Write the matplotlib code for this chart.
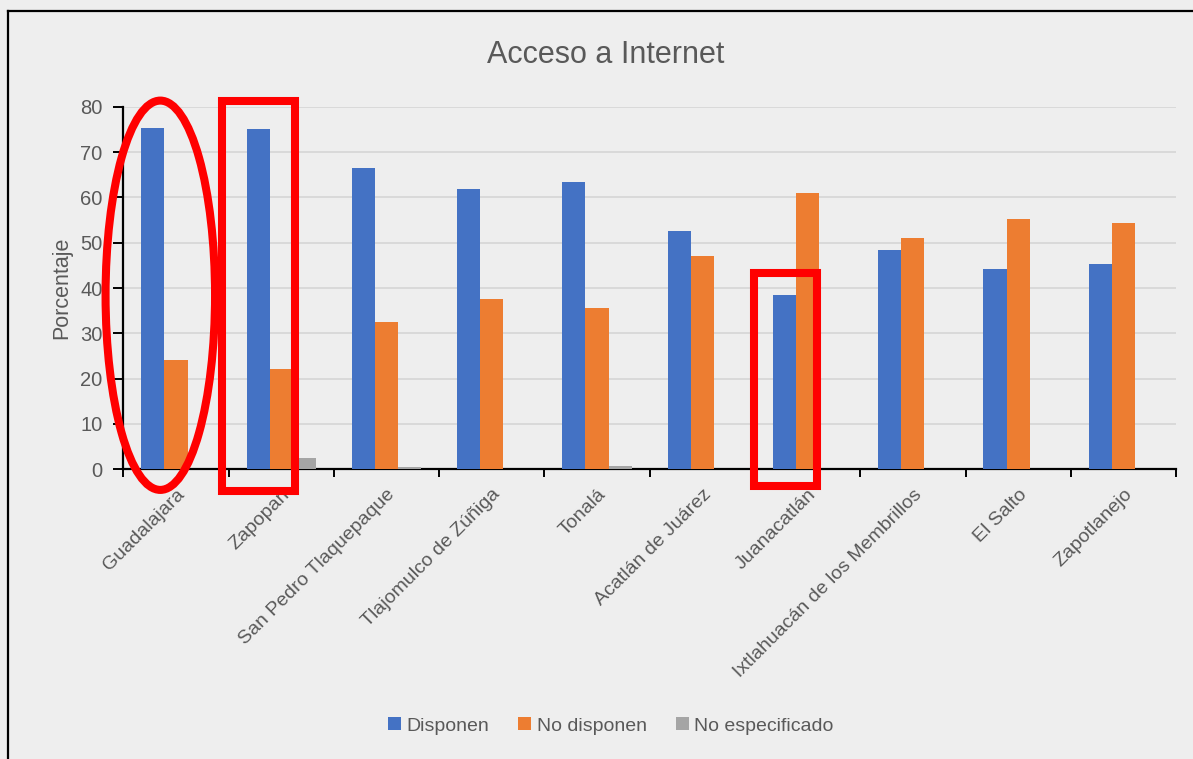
"""Acceso a Internet por municipio: porcentaje de viviendas que disponen / no disponen."""
import matplotlib
matplotlib.use("Agg")
import matplotlib.pyplot as plt
import numpy as np
from matplotlib.lines import Line2D
from matplotlib.patches import Ellipse, Rectangle

municipios = [
    "Guadalajara", "Zapopan", "San Pedro Tlaquepaque", "Tlajomulco de Zúñiga",
    "Tonalá", "Acatlán de Juárez", "Juanacatlán", "Ixtlahuacán de los Membrillos",
    "El Salto", "Zapotlanejo",
]
disponen = [75.2, 75.1, 66.5, 61.9, 63.3, 52.6, 38.5, 48.4, 44.3, 45.4]
no_disponen = [24.1, 22.1, 32.5, 37.6, 35.5, 47.0, 61.0, 51.1, 55.2, 54.3]
no_especificado = [0.0, 2.4, 0.6, 0.0, 0.7, 0.0, 0.0, 0.0, 0.0, 0.0]
series_labels = ["Disponen", "No disponen", "No especificado"]
y_ticks = [0, 10, 20, 30, 40, 50, 60, 70, 80]

BG = "#EEEEEE"
TEXT = "#595959"
COLORS = ["#4472C4", "#ED7D31", "#A5A5A5"]

plt.rcParams["font.family"] = ["Liberation Sans", "DejaVu Sans"]

fig = plt.figure(figsize=(11.93, 7.59), dpi=100, facecolor=BG)
ax = fig.add_axes([0.1034, 0.3817, 0.8824, 0.4777], facecolor=BG)

x = np.arange(len(municipios))
width = 0.22
for k, (vals, color, label) in enumerate(zip([disponen, no_disponen, no_especificado],
                                            COLORS, series_labels)):
    ax.bar(x + (k - 1) * width, vals, width, color=color, label=label, zorder=3)

ax.set_xlim(-0.5, len(municipios) - 0.5)
ax.set_ylim(0, 80)
ax.set_yticks(y_ticks)
ax.yaxis.grid(True, color="#D9D9D9", linewidth=1.4, zorder=0)
ax.set_axisbelow(True)

for side in ("top", "right"):
    ax.spines[side].set_visible(False)
for side in ("left", "bottom"):
    ax.spines[side].set_color("black")
    ax.spines[side].set_linewidth(1.6)

ax.tick_params(axis="y", direction="out", length=7, width=1.4, color="black",
               labelcolor=TEXT, labelsize=14.5, pad=8)
ax.set_xticks(x)
ax.set_xticklabels(municipios, rotation=45, ha="right", rotation_mode="anchor")
ax.tick_params(axis="x", which="major", length=0, labelcolor=TEXT, labelsize=14, pad=12)
ax.set_xticks(np.arange(-0.5, len(municipios)), minor=True)
ax.tick_params(axis="x", which="minor", direction="out", length=6, width=1.4, color="black")

ax.set_ylabel("Porcentaje", color=TEXT, fontsize=15.5, labelpad=6)
fig.text(0.508, 0.927, "Acceso a Internet", ha="center", va="center",
         color=TEXT, fontsize=22)

# red highlight marks
red_lw = 5.8
ax.add_patch(Ellipse((-0.149, 38.4), 1.04, 85.9, fill=False, edgecolor="#FF0000",
                     linewidth=red_lw, clip_on=False, zorder=5))
ax.add_patch(Rectangle((0.4416, -4.9), 1.130 - 0.4416, 81.3 + 4.9, fill=False,
                       edgecolor="#FF0000", linewidth=red_lw, clip_on=False, zorder=5))
ax.add_patch(Rectangle((5.494, -3.7), 6.088 - 5.494, 43.2 + 3.7, fill=False,
                       edgecolor="#FF0000", linewidth=red_lw, clip_on=False, zorder=5))

handles, labels = ax.get_legend_handles_labels()
fig.legend(handles, labels, loc="center", bbox_to_anchor=(0.512, 0.0435), ncol=3,
           frameon=False, fontsize=14, labelcolor=TEXT, handlelength=0.65,
           handleheight=0.65, handletextpad=0.3, columnspacing=1.5)

# outer frame (left and top edges)
fig.add_artist(Line2D([8 / 1193, 8 / 1193], [0, 1 - 11 / 759], color="black", linewidth=1.6))
fig.add_artist(Line2D([8 / 1193, 1], [1 - 11 / 759, 1 - 11 / 759], color="black", linewidth=1.6))

fig.savefig("out.png", dpi=100, facecolor=BG)
